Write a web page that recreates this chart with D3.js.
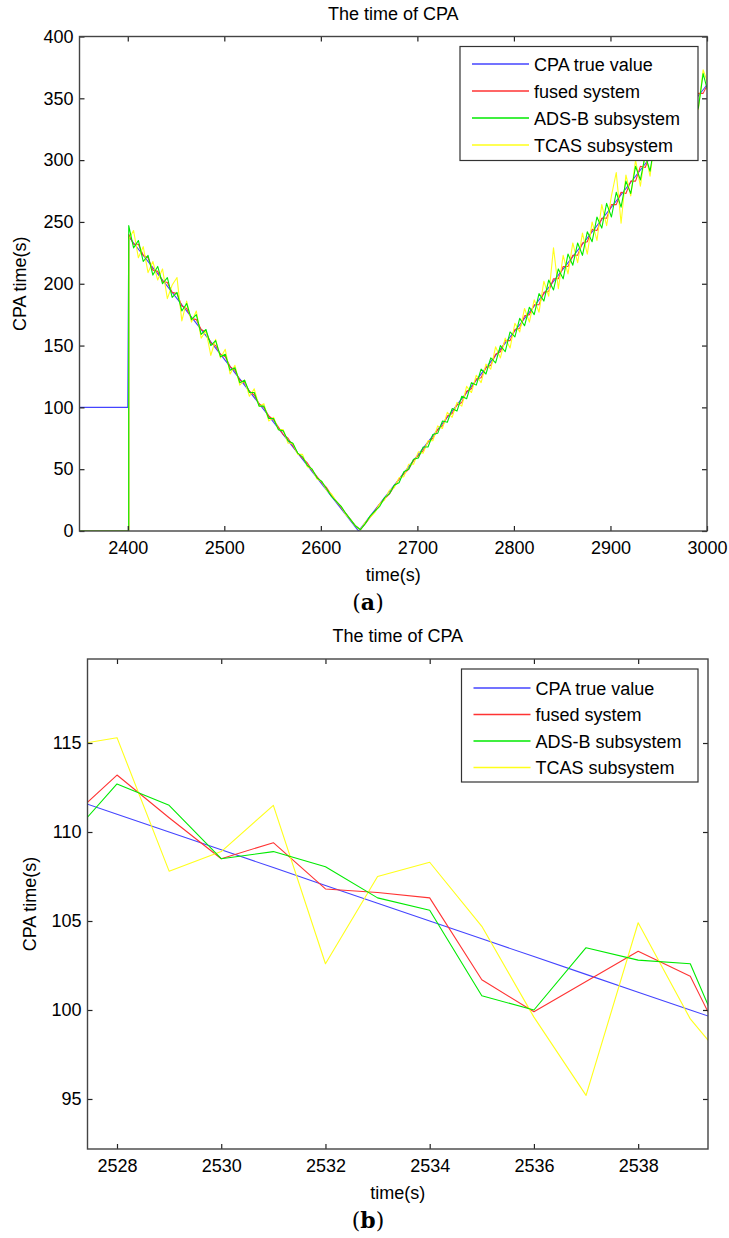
<!DOCTYPE html>
<html>
<head>
<meta charset="utf-8">
<script src="https://cdn.jsdelivr.net/npm/d3@7"></script>
<style>
  body { margin: 0; background: #fff; }
  svg text { font-family: "Liberation Sans", Arial, sans-serif; fill: #000; }
</style>
</head>
<body>
<div id="svg"></div>
<script>
// legend entries and colours
var seriesNames = ["CPA true value", "fused system", "ADS-B subsystem", "TCAS subsystem"];
var seriesColors = ["#4444ff", "#ff3333", "#00ea00", "#ffff1a"];

// ---- panel (a): whole encounter ----
var xTicksA = [2400, 2500, 2600, 2700, 2800, 2900, 3000];
var yTicksA = [0, 50, 100, 150, 200, 250, 300, 350, 400];
var trueTimesA = [2350, 2400, 2401, 2639, 3000];
var trueValuesA = [100, 100, 238, 0, 361];
// subsystems report 0 until the track starts
var startTimesA = [2350, 2401];
var startValuesA = [0, 0];
// sampled every 5 s from t = 2401
var fusedA = [240, 232, 232, 223, 221, 211, 210, 202, 201, 193,
  192, 182, 180, 172, 171, 163, 161, 152, 150, 143,
  141, 133, 130, 122, 120, 113, 110, 103, 100, 93,
  90, 84, 78, 75, 69, 63, 59, 55, 49, 44,
  39, 35, 29, 24, 19, 14, 9, 4, 1, 6,
  11, 16, 22, 26, 30, 36, 42, 46, 50, 57,
  61, 65, 72, 75, 82, 85, 93, 95, 102, 104,
  113, 115, 123, 124, 132, 134, 143, 145, 154, 154,
  163, 164, 174, 175, 183, 183, 193, 194, 204, 204,
  214, 214, 223, 223, 233, 234, 244, 243, 253, 253,
  264, 264, 274, 273, 283, 283, 295, 294, 304, 303,
  314, 312, 324, 324, 335, 333, 344, 342, 354, 354, 362];
var adsbA = [247, 229, 235, 218, 223, 207, 214, 200, 205, 189,
  193, 178, 184, 171, 175, 159, 163, 150, 154, 141,
  143, 130, 132, 120, 122, 112, 112, 101, 101, 91,
  91, 82, 81, 73, 71, 63, 60, 53, 50, 43,
  40, 34, 28, 24, 20, 14, 9, 4, 1, 6,
  12, 16, 20, 27, 30, 37, 39, 48, 50, 58,
  59, 68, 68, 78, 79, 89, 88, 99, 97, 109,
  107, 120, 118, 131, 127, 140, 136, 150, 145, 161,
  157, 172, 166, 181, 175, 192, 186, 203, 195, 212,
  204, 224, 215, 233, 223, 242, 234, 254, 245, 265,
  254, 274, 262, 283, 273, 295, 284, 304, 291, 315,
  303, 326, 312, 334, 321, 345, 333, 356, 342, 370, 355];
var tcasA = [236, 243, 221, 230, 209, 218, 203, 212, 188, 199,
  205, 170, 186, 169, 178, 156, 162, 142, 155, 140,
  147, 127, 134, 118, 122, 109, 115, 101, 103, 89,
  92, 82, 82, 71, 71, 62, 62, 52, 50, 42,
  40, 33, 30, 24, 20, 13, 9, 4, 1, 7,
  11, 15, 22, 25, 33, 35, 43, 44, 54, 54,
  64, 63, 73, 73, 85, 83, 96, 92, 104, 101,
  117, 112, 126, 120, 135, 131, 149, 140, 156, 148,
  168, 161, 180, 169, 187, 177, 202, 190, 229, 196,
  223, 208, 233, 217, 241, 224, 250, 235, 264, 247,
  271, 290, 249, 288, 271, 300, 279, 306, 287, 318,
  301, 331, 308, 337, 315, 349, 329, 360, 341, 373, 362];

// ---- panel (b): zoom on 2527..2540 s ----
var xTicksB = [2528, 2530, 2532, 2534, 2536, 2538];
var yTicksB = [95, 100, 105, 110, 115];
var timesB = [2527, 2528, 2529, 2530, 2531, 2532, 2533, 2534, 2535, 2536, 2537, 2538, 2539, 2540];
var trueB = [112, 111, 110, 109, 108, 107, 106, 105, 104, 103, 102, 101, 100, 99];
var fusedB = [110.5, 113.2, 110.8, 108.5, 109.4, 106.8, 106.6, 106.3, 101.7, 99.9, 101.6, 103.3, 101.9, 96.0];
var adsbB = [109.4, 112.7, 111.5, 108.5, 108.9, 108.05, 106.3, 105.6, 100.8, 100.0, 103.5, 102.8, 102.6, 95.8];
var tcasB = [114.8, 115.3, 107.8, 108.9, 111.5, 102.6, 107.5, 108.3, 104.7, 99.6, 95.2, 104.9, 99.5, 96.0];

var width = 729, height = 1238;

let svg = d3.select("#svg").append("svg")
    .attr("width", width)
    .attr("height", height);

function zip(ts, vs) {
    return ts.map((t, i) => [t, vs[i]]);
}

let sampleTimesA = d3.range(2401, 3002, 5);
let measA = [fusedA, adsbA, tcasA].map(vs => zip(startTimesA, startValuesA).concat(zip(sampleTimesA, vs)));

drawPanel({
    id: "a", left: 79.5, right: 707, top: 36.5, bottom: 531,
    xDomain: [2350, 3000], yDomain: [0, 400],
    xTicks: xTicksA, yTicks: yTicksA,
    series: [zip(trueTimesA, trueValuesA)].concat(measA),
    order: [0, 1, 3, 2],
    legend: {x: 460, y: 46.5, w: 238, h: 114, first: 64, step: 27},
    ylabelX: 20, caption: "a"
});

drawPanel({
    id: "b", left: 87.5, right: 708, top: 659, bottom: 1149,
    xDomain: [2527.434, 2539.34], yDomain: [92.19, 119.72],
    xTicks: xTicksB, yTicks: yTicksB,
    series: [trueB, fusedB, adsbB, tcasB].map(vs => zip(timesB, vs)),
    order: [0, 1, 3, 2],
    legend: {x: 461.5, y: 669, w: 236.5, h: 113, first: 688, step: 26.5},
    ylabelX: 30, caption: "b"
});

function drawPanel(p) {
    let x = d3.scaleLinear().domain(p.xDomain).range([p.left, p.right]);
    let y = d3.scaleLinear().domain(p.yDomain).range([p.bottom, p.top]);
    let g = svg.append("g");

    g.append("clipPath").attr("id", "clip-" + p.id)
        .append("rect")
        .attr("x", p.left).attr("y", p.top)
        .attr("width", p.right - p.left).attr("height", p.bottom - p.top);

    let line = d3.line().x(d => x(d[0])).y(d => y(d[1]));

    g.append("g").attr("clip-path", "url(#clip-" + p.id + ")")
        .selectAll("path")
        .data(p.order)
        .join("path")
        .attr("d", i => line(p.series[i]))
        .attr("fill", "none")
        .attr("stroke", i => seriesColors[i])
        .attr("stroke-width", 1.1)
        .attr("stroke-linejoin", "round");

    // axes with ticks pointing inwards, MATLAB style
    let fmt = d3.format("d");
    let xa = g.append("g")
        .attr("transform", "translate(0," + p.bottom + ")")
        .call(d3.axisBottom(x).tickValues(p.xTicks).tickFormat(fmt).tickSize(-5).tickPadding(10));
    let ya = g.append("g")
        .attr("transform", "translate(" + p.left + ",0)")
        .call(d3.axisLeft(y).tickValues(p.yTicks).tickFormat(fmt).tickSize(-5).tickPadding(6));
    let xt = g.append("g")
        .attr("transform", "translate(0," + p.top + ")")
        .call(d3.axisTop(x).tickValues(p.xTicks).tickFormat("").tickSize(-5));
    let yr = g.append("g")
        .attr("transform", "translate(" + p.right + ",0)")
        .call(d3.axisRight(y).tickValues(p.yTicks).tickFormat("").tickSize(-5));

    [xa, ya, xt, yr].forEach(a => {
        a.select(".domain").remove();
        a.selectAll("line").attr("stroke", "#222").attr("stroke-width", 1.2);
        a.selectAll("text")
            .attr("font-family", "'Liberation Sans', Arial, sans-serif")
            .attr("font-size", 18)
            .attr("fill", "#000");
    });

    g.append("rect")
        .attr("x", p.left).attr("y", p.top)
        .attr("width", p.right - p.left).attr("height", p.bottom - p.top)
        .attr("fill", "none")
        .attr("stroke", "#444")
        .attr("stroke-width", 1.4);

    // legend
    let L = p.legend;
    let lg = g.append("g");
    lg.append("rect")
        .attr("x", L.x).attr("y", L.y).attr("width", L.w).attr("height", L.h)
        .attr("fill", "#fff").attr("stroke", "#333").attr("stroke-width", 1.2);
    seriesNames.forEach((name, i) => {
        let ly = L.first + i * L.step;
        lg.append("line")
            .attr("x1", L.x + 12).attr("x2", L.x + 69)
            .attr("y1", ly).attr("y2", ly)
            .attr("stroke", seriesColors[i]).attr("stroke-width", 1.3);
        lg.append("text")
            .attr("x", L.x + 74).attr("y", ly + 6.5)
            .attr("font-size", 18)
            .text(name);
    });

    let cx = (p.left + p.right) / 2;
    g.append("text")
        .attr("x", cx).attr("y", p.top - 17)
        .attr("text-anchor", "middle").attr("font-size", 18)
        .text("The time of CPA");
    g.append("text")
        .attr("x", cx).attr("y", p.bottom + 50)
        .attr("text-anchor", "middle").attr("font-size", 18)
        .text("time(s)");
    g.append("text")
        .attr("transform", "translate(" + (p.ylabelX + 6) + "," + ((p.top + p.bottom) / 2) + ") rotate(-90)")
        .attr("text-anchor", "middle").attr("font-size", 18)
        .text("CPA time(s)");

    let cap = g.append("text")
        .attr("x", 368).attr("y", p.bottom + 79)
        .attr("text-anchor", "middle")
        .attr("font-size", 22)
        .style("font-family", "'DejaVu Serif', 'Liberation Serif', serif");
    cap.append("tspan").text("(");
    cap.append("tspan").attr("font-weight", "bold").text(p.caption);
    cap.append("tspan").text(")");
}
</script>
</body>
</html>
